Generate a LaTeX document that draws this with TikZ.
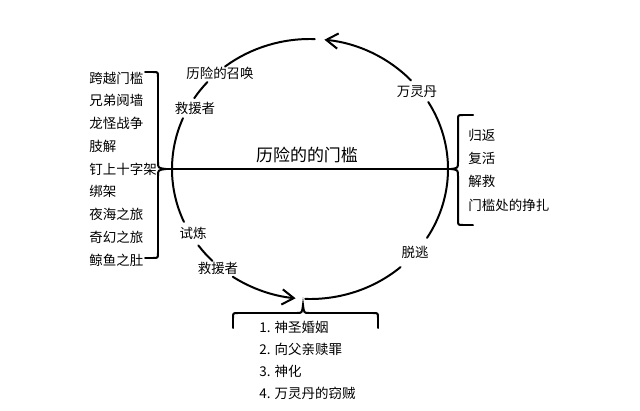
\documentclass[tikz,border=0pt]{standalone}
\usepackage{fontspec}
\setmainfont{Noto Sans CJK SC}
\usetikzlibrary{arrows.meta, calc}

\begin{document}
\begin{tikzpicture}[
    x=0.03cm, y=0.03cm,
    font=\fontsize{11.5}{13}\selectfont,
    line/.style={line width=1.7pt, line cap=round},
    arr/.style={line, -{Straight Barb[length=10pt, width=13pt, line width=1.7pt]}},
    ring/.style={x radius=4.14cm, y radius=3.9cm},
    stage/.style={inner sep=1pt},
    item/.style={anchor=west, inner sep=1pt}
]
\useasboundingbox (0,0) rectangle (640,410);

% the cycle
\coordinate (O) at (310,241);
\foreach \n/\a in {a/43, b/88, c/138, d/157, e/216, f/236, g/268, h/328}
    \coordinate (\n) at ($(O)+(\a:4.14cm and 3.9cm)$);

\node[stage] (call)   at (220,337) {历险的召唤};
\node[stage] (help1)  at (195,302) {救援者};
\node[stage] (test)   at (193,177) {试炼};
\node[stage] (help2)  at (218,142) {救援者};
\node[stage] (flight) at (415,158) {脱逃};
\node[stage] (elixir) at (417,318) {万灵丹};

\draw[arr]  (a) arc[start angle=43,  end angle=84,  ring];
\draw[line] (b) arc[start angle=88,  end angle=128, ring];
\draw[line] (c) arc[start angle=138, end angle=147, ring];
\draw[line] (d) arc[start angle=157, end angle=204, ring];
\draw[line] (e) arc[start angle=216, end angle=225, ring];
\draw[arr]  (f) arc[start angle=236, end angle=264, ring];
\draw[line] (g) arc[start angle=268, end angle=311, ring];
\draw[line] (h) arc[start angle=328, end angle=391, ring];

% threshold
\coordinate (ltip) at (166,241);
\coordinate (rtip) at (451,241);
\draw[line] (ltip) -- (rtip);
\node[font=\fontsize{14.5}{16}\selectfont] (sill) at (307,255) {历险的的门槛};

% left list
\foreach \t [count=\i from 0] in {跨越门槛, 兄弟阋墙, 龙怪战争, 肢解, 钉上十字架,
                                  绑架, 夜海之旅, 奇幻之旅, 鲸鱼之肚}
    \node[item] (left\i) at (88, {332-22.75*\i}) {\t};
\draw[line] (145,338) -- (153,338) .. controls (158,338) .. (158,333) -- (158,248)
    .. controls (158,242) .. (ltip) .. controls (158,240) .. (158,234)
    -- (158,157) .. controls (158,152) .. (153,152) -- (145,152);

% right list
\foreach \t [count=\i from 0] in {归返, 复活, 解救, 门槛处的挣扎}
    \node[item] (right\i) at (467, {275-23.3*\i}) {\t};
\draw[line] (473,295) -- (463,295) .. controls (458,295) .. (458,290) -- (458,248)
    .. controls (458,242) .. (rtip) .. controls (458,240) .. (458,234)
    -- (458,190) .. controls (458,185) .. (463,185) -- (473,185);

% bottom list
\foreach \t [count=\i from 0] in {1. 神圣婚姻, 2. 向父亲赎罪, 3. 神化, 4. 万灵丹的窃贼}
    \node[item] (low\i) at (258, {83-22*\i}) {\t};
\coordinate (btip) at (303,105);
\draw[line] (233,82) -- (233,92) .. controls (233,97) .. (238,97) -- (297,97)
    .. controls (302,97) .. (btip) .. controls (304,97) .. (309,97)
    -- (373,97) .. controls (378,97) .. (378,92) -- (378,82);
\end{tikzpicture}
\end{document}
